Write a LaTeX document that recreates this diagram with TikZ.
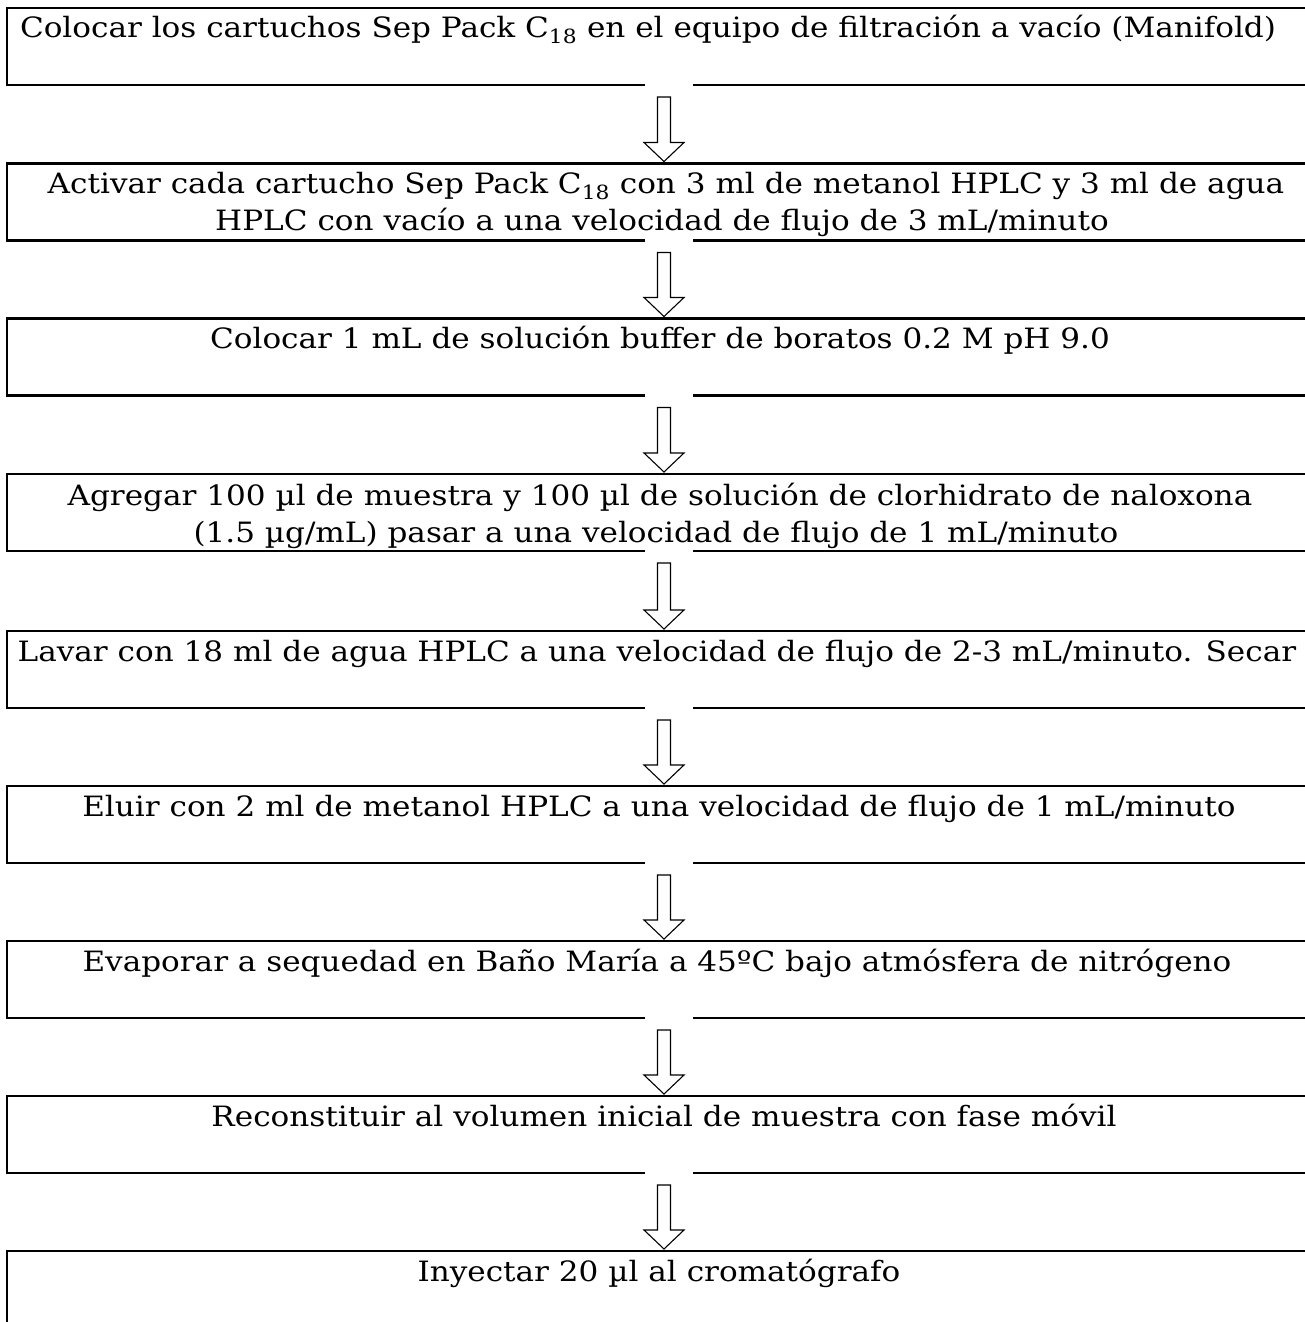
\documentclass[tikz,border=0pt]{standalone}
\usepackage{fontspec}
\setmainfont{DejaVu Serif}[FakeStretch=1.11]
\usetikzlibrary{calc}
\tikzset{
  stepbox/.style={draw=black, line width=2.2pt, rectangle, minimum width=1320pt, minimum height=77pt, inner sep=0pt, outer sep=0pt, anchor=north west},
  lbl/.style={inner sep=0pt, outer sep=0pt, anchor=base, font=\fontsize{28}{32}\selectfont},
  lblw/.style={lbl, anchor=base west},
  arrline/.style={draw=black, line width=1.1pt, fill=white, line join=miter},
}
\newcommand\flowarr[2]{%
  \fill[white] ($(#1.south -| ax)+(-19,-2)$) rectangle ($(#2.north -| ax)+(29,-3)$);
  \draw[arrline] ($(#1.south -| ax)+(-6.5,12)$) -- ($(#2.north -| ax)+(-6.5,-21)$) -- ($(#2.north -| ax)+(-20,-21)$) -- ($(#2.north -| ax)+(0,-2)$) -- ($(#2.north -| ax)+(20,-21)$) -- ($(#2.north -| ax)+(6.5,-21)$) -- ($(#1.south -| ax)+(6.5,12)$) -- cycle;}
\begin{document}
\begin{tikzpicture}[x=1pt,y=-1pt]
\clip (0,0) rectangle (1305,1322);
\fill[white] (0,0) rectangle (1305,1322);
\coordinate (ax) at (664,0);
% boxes
\node[stepbox] (b1) at (7,8) {};
\node[stepbox] (b2) at (7,163.5) {};
\node[stepbox] (b3) at (7,318.5) {};
\node[stepbox] (b4) at (7,474) {};
\node[stepbox] (b5) at (7,631) {};
\node[stepbox] (b6) at (7,786) {};
\node[stepbox] (b7) at (7,941) {};
\node[stepbox] (b8) at (7,1096) {};
\node[stepbox, minimum height=120pt] (b9) at (7,1251) {};
% labels
\node[lblw] (t1) at (20,38) {Colocar los cartuchos Sep Pack C\textsubscript{18} en el equipo de filtración a vacío (Manifold)};
\node[lbl] (t2a) at (666,193.5) {Activar cada cartucho Sep Pack C\textsubscript{18} con 3 ml de metanol HPLC y 3 ml de agua};
\node[lbl] (t2b) at (662,230.5) {HPLC con vacío a una velocidad de flujo de 3 mL/minuto};
\node[lbl] (t3) at (660,348.5) {Colocar 1 mL de solución buffer de boratos 0.2 M pH 9.0};
\node[lbl] (t4a) at (660,505) {Agregar 100 µl de muestra y 100 µl de solución de clorhidrato de naloxona};
\node[lbl] (t4b) at (656,542) {(1.5 µg/mL) pasar a una velocidad de flujo de 1 mL/minuto};
\node[lbl] (t5) at (657,661) {Lavar con 18 ml de agua HPLC a una velocidad de flujo de 2-3 mL/minuto. Secar};
\node[lbl] (t6) at (659,816) {Eluir con 2 ml de metanol HPLC a una velocidad de flujo de 1 mL/minuto};
\node[lbl] (t7) at (657,971) {Evaporar a sequedad en Baño María a 45ºC bajo atmósfera de nitrógeno};
\node[lbl] (t8) at (664,1126) {Reconstituir al volumen inicial de muestra con fase móvil};
\node[lbl] (t9) at (659,1281) {Inyectar 20 µl al cromatógrafo};
% arrows
\flowarr{b1}{b2}
\flowarr{b2}{b3}
\flowarr{b3}{b4}
\flowarr{b4}{b5}
\flowarr{b5}{b6}
\flowarr{b6}{b7}
\flowarr{b7}{b8}
\flowarr{b8}{b9}
\end{tikzpicture}
\end{document}
